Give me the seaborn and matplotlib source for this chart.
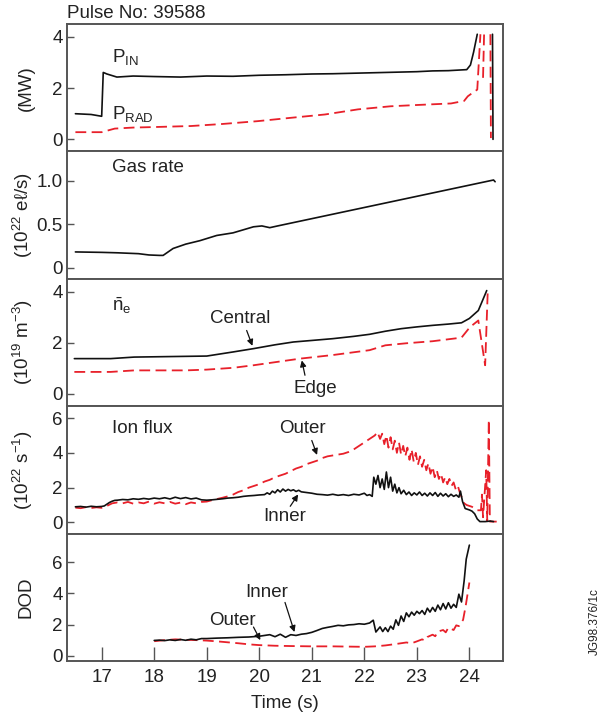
import numpy as np
import pandas as pd
import matplotlib
matplotlib.use("Agg")
import matplotlib.pyplot as plt
import seaborn as sns

# ---------------- data ----------------
NAN = float("nan")
pin_t = [16.50, 16.80, 17.00, 17.03, 17.10, 17.29, 17.60, 18.00, 18.50, 19.00, 19.50, 20.00, 20.50,
         21.00, 21.40, 21.80, 22.20, 22.60, 23.00, 23.30, 23.60, 23.95, 24.02, 24.08, 24.15, NAN, 24.44, 24.45]
pin_v = [1.00, 0.97, 0.90, 2.61, 2.55, 2.43, 2.47, 2.45, 2.43, 2.47, 2.46, 2.50, 2.52,
         2.55, 2.56, 2.58, 2.60, 2.62, 2.64, 2.67, 2.68, 2.72, 2.90, 3.40, 4.10, NAN, 4.10, 0.00]

prad_t = [16.50, 17.00, 17.25, 17.60, 18.00, 18.70, 19.30, 19.97, 20.60, 21.25, 21.88, 22.50,
          23.00, 23.65, 23.90, 23.97, 24.05, 24.15, 24.21, NAN, 24.26, 24.28, NAN, 24.40, 24.41]
prad_v = [0.28, 0.28, 0.42, 0.46, 0.48, 0.52, 0.60, 0.71, 0.84, 0.97, 1.17, 1.29,
          1.34, 1.40, 1.50, 1.68, 1.80, 1.94, 4.10, NAN, 2.40, 4.10, NAN, 4.10, 0.05]

gas_t = [16.50, 17.00, 17.30, 17.70, 17.90, 18.10, 18.17, 18.36, 18.60, 18.87, 19.19, 19.50,
         19.89, 20.05, 20.20, 20.35, 24.46, 24.49]
gas_v = [0.18, 0.175, 0.17, 0.16, 0.145, 0.14, 0.14, 0.22, 0.27, 0.31, 0.37, 0.40,
         0.47, 0.48, 0.46, 0.48, 1.01, 0.99]

ne_c_t = [16.48, 17.17, 17.62, 18.30, 19.00, 19.50, 19.89, 20.30, 20.65, 21.00, 21.40, 21.80, 22.10,
          22.40, 22.70, 23.00, 23.30, 23.60, 23.85, 24.00, 24.17, 24.33]
ne_c_v = [1.38, 1.38, 1.44, 1.46, 1.48, 1.64, 1.77, 1.92, 2.03, 2.09, 2.16, 2.25, 2.33,
          2.45, 2.55, 2.62, 2.68, 2.73, 2.78, 2.95, 3.26, 4.04]

ne_e_t = [16.48, 17.17, 17.62, 18.60, 19.00, 19.50, 19.89, 20.30, 20.78, 21.40, 22.10, 22.40,
          22.80, 23.30, 23.85, 24.01, 24.17, 24.30, 24.35]
ne_e_v = [0.86, 0.86, 0.92, 0.92, 0.95, 1.02, 1.12, 1.24, 1.38, 1.52, 1.71, 1.90,
          1.98, 2.06, 2.20, 2.61, 2.87, 1.12, 4.04]

ion_in_t = [16.50, 16.60, 16.70, 16.80, 16.90, 17.00, 17.05, 17.10, 17.15, 17.20, 17.25, 17.30, 17.40,
            17.50, 17.60, 17.70, 17.80, 17.90, 18.00, 18.10, 18.20, 18.30, 18.40, 18.50, 18.60, 18.70,
            18.80, 18.90, 19.00, 19.10, 19.20, 19.30, 19.40, 19.50, 19.60, 19.70, 19.80, 19.90, 20.00,
            20.10, 20.15, 20.20, 20.25, 20.30, 20.35, 20.40, 20.45, 20.50, 20.55, 20.60, 20.65, 20.70,
            20.75, 20.80, 20.90, 21.00, 21.10, 21.20, 21.30, 21.40, 21.50, 21.60, 21.70, 21.80, 21.90,
            22.00, 22.05, 22.10, 22.15, 22.18, 22.22, 22.26, 22.30, 22.34, 22.38, 22.42, 22.46, 22.50,
            22.54, 22.58, 22.62, 22.66, 22.70, 22.75, 22.80, 22.85, 22.90, 22.95, 23.00, 23.05, 23.10,
            23.15, 23.20, 23.25, 23.30, 23.35, 23.40, 23.45, 23.50, 23.55, 23.60, 23.65, 23.70, 23.75,
            23.80, 23.83, 23.87, 23.92, 24.00, 24.05, 24.10, 24.15, 24.20, 24.30, 24.40, 24.46]
ion_in_v = [0.90, 0.92, 0.88, 0.93, 0.90, 0.92, 0.95, 1.05, 1.15, 1.22, 1.27, 1.28, 1.32,
            1.30, 1.36, 1.33, 1.38, 1.34, 1.40, 1.36, 1.42, 1.35, 1.45, 1.37, 1.43, 1.35,
            1.40, 1.30, 1.28, 1.30, 1.33, 1.36, 1.40, 1.42, 1.45, 1.50, 1.53, 1.55, 1.58,
            1.60, 1.70, 1.62, 1.80, 1.70, 1.88, 1.75, 1.92, 1.80, 1.90, 1.82, 1.88, 1.78,
            1.85, 1.76, 1.72, 1.68, 1.62, 1.60, 1.57, 1.62, 1.56, 1.60, 1.55, 1.62, 1.58,
            1.68, 1.55, 1.60, 1.50, 2.60, 2.20, 2.70, 2.00, 2.50, 1.90, 2.90, 2.00, 2.60,
            1.80, 2.20, 1.70, 2.00, 1.65, 1.85, 1.60, 1.75, 1.55, 1.70, 1.58, 1.75, 1.55,
            1.68, 1.52, 1.70, 1.55, 1.72, 1.50, 1.68, 1.52, 1.65, 1.48, 1.62, 1.50, 1.58,
            1.45, 1.80, 1.20, 0.80, 0.72, 0.65, 0.50, 0.20, 0.05, 0.05, 0.08, 0.05]

ion_out_t = [16.50, 16.60, 16.70, 16.80, 16.90, 17.00, 17.10, 17.20, 17.30, 17.40, 17.50, 17.60, 17.70,
             17.80, 17.90, 18.00, 18.10, 18.20, 18.30, 18.40, 18.50, 18.60, 18.70, 18.80, 18.90, 19.00,
             19.10, 19.20, 19.30, 19.40, 19.50, 19.60, 19.70, 19.80, 19.90, 20.00, 20.10, 20.20, 20.30,
             20.40, 20.50, 20.60, 20.70, 20.80, 20.90, 21.00, 21.10, 21.20, 21.30, 21.40, 21.50, 21.60,
             21.70, 21.80, 21.90, 22.00, 22.10, 22.20, 22.25, 22.30, 22.34, 22.38, 22.42, 22.46, 22.50,
             22.54, 22.58, 22.62, 22.66, 22.70, 22.74, 22.78, 22.82, 22.86, 22.90, 22.94, 22.98, 23.02,
             23.06, 23.10, 23.14, 23.18, 23.22, 23.26, 23.30, 23.34, 23.38, 23.42, 23.46, 23.50, 23.54,
             23.58, 23.62, 23.66, 23.70, 23.74, 23.78, 23.82, 23.86, 23.90, 23.95, 24.00, 24.05, 24.10,
             24.15, 24.22, 24.24, 24.26, 24.32, 24.34, 24.37, 24.39, 24.45, 24.52]
ion_out_v = [0.85, 0.82, 0.88, 0.83, 0.87, 0.84, 0.95, 1.10, 1.15, 1.10, 1.18, 1.08, 1.15,
             1.10, 1.20, 1.08, 1.16, 1.10, 1.18, 1.08, 1.14, 1.05, 1.15, 1.10, 1.18, 1.20,
             1.28, 1.35, 1.42, 1.50, 1.60, 1.75, 1.85, 2.00, 2.10, 2.20, 2.35, 2.45, 2.60,
             2.70, 2.80, 2.95, 3.10, 3.20, 3.35, 3.45, 3.55, 3.70, 3.80, 3.85, 3.90, 3.95,
             4.05, 4.20, 4.40, 4.60, 4.80, 5.00, 5.20, 4.80, 5.10, 4.50, 5.00, 4.30, 4.90,
             4.20, 4.70, 4.00, 4.60, 3.90, 4.40, 3.80, 4.30, 3.60, 4.20, 3.50, 4.00, 3.30,
             3.80, 3.20, 3.60, 3.00, 3.40, 2.80, 3.20, 2.60, 3.00, 2.50, 2.80, 2.30, 2.60,
             2.20, 2.50, 2.10, 2.30, 1.90, 2.10, 1.70, 1.40, 1.10, 1.00, 0.95, 0.90, 0.80,
             0.70, 0.70, 1.60, 0.30, 3.00, 0.10, 5.90, 0.05, 0.05, 0.05]

dod_in_t = [18.00, 18.10, 18.20, 18.30, 18.40, 18.50, 18.60, 18.70, 18.80, 18.90, 19.00, 19.20, 19.40,
            19.60, 19.80, 20.00, 20.10, 20.20, 20.30, 20.40, 20.50, 20.60, 20.70, 20.80, 20.90, 21.00,
            21.10, 21.20, 21.30, 21.40, 21.50, 21.60, 21.70, 21.80, 21.90, 22.00, 22.10, 22.17, 22.22,
            22.30, 22.35, 22.40, 22.45, 22.50, 22.55, 22.60, 22.65, 22.70, 22.75, 22.80, 22.85, 22.90,
            22.95, 23.00, 23.05, 23.10, 23.15, 23.20, 23.25, 23.30, 23.35, 23.40, 23.45, 23.50, 23.55,
            23.60, 23.65, 23.70, 23.75, 23.80, 23.85, 23.90, 23.94, 24.00]
dod_in_v = [0.98, 1.00, 0.97, 1.02, 0.98, 1.04, 0.99, 1.06, 1.02, 1.10, 1.10, 1.13, 1.15,
            1.18, 1.20, 1.25, 1.30, 1.35, 1.22, 1.38, 1.18, 1.35, 1.30, 1.38, 1.42, 1.50,
            1.62, 1.75, 1.82, 1.88, 1.95, 1.92, 1.98, 2.00, 2.05, 2.02, 2.10, 2.28, 1.52,
            1.85, 1.55, 1.80, 1.55, 1.90, 1.70, 2.30, 1.95, 2.55, 2.20, 2.75, 2.50, 2.80,
            2.60, 2.85, 2.70, 2.90, 2.65, 3.05, 2.80, 3.10, 2.85, 3.25, 2.95, 3.35, 3.00,
            3.40, 3.05, 3.30, 3.10, 3.95, 3.45, 4.80, 6.20, 7.10]

dod_out_t = [18.00, 18.20, 18.40, 18.60, 18.80, 19.00, 19.20, 19.40, 19.60, 19.80, 20.00, 20.30, 20.60,
             21.00, 21.40, 21.80, 22.00, 22.20, 22.40, 22.60, 22.80, 22.90, 23.00, 23.10, 23.15, 23.20,
             23.30, 23.35, 23.40, 23.50, 23.55, 23.60, 23.70, 23.75, 23.80, 23.88, 23.93, 24.00]
dod_out_v = [0.93, 1.00, 1.05, 1.02, 1.00, 0.97, 0.92, 0.86, 0.80, 0.73, 0.68, 0.64, 0.62,
             0.60, 0.60, 0.58, 0.57, 0.60, 0.66, 0.75, 0.85, 0.80, 0.92, 1.05, 0.98, 1.20,
             1.35, 1.25, 1.55, 1.65, 1.50, 1.80, 1.65, 1.95, 1.90, 2.30, 3.20, 4.70]

x_ticks = [17, 18, 19, 20, 21, 22, 23, 24]
ylabels = ["(MW)", "(10$^{22}$ e\u2113/s)", "(10$^{19}$ m$^{-3}$)", "(10$^{22}$ s$^{-1}$)", "DOD"]
yticks = [[0, 2, 4], [0, 0.5, 1.0], [0, 2, 4], [0, 2, 4, 6], [0, 2, 4, 6]]
ylims = [(-0.47, 4.5), (-0.13, 1.34), (-0.48, 4.5), (-0.64, 6.68), (-0.34, 7.84)]

# ---------------- style ----------------
sns.set_style("white")
plt.rcParams["font.family"] = ["Liberation Sans", "DejaVu Sans"]
plt.rcParams["mathtext.fontset"] = "custom"
plt.rcParams["mathtext.rm"] = "Liberation Sans"
plt.rcParams["mathtext.it"] = "Liberation Sans:italic"
plt.rcParams["mathtext.bf"] = "Liberation Sans:bold"

BLACK = "#111111"
RED = "#e8202a"
TXT = "#222222"
FS = 13.5
DASH = (0, (6, 3))

fig, axes = plt.subplots(5, 1, figsize=(6.10, 7.18), dpi=100, sharex=True)
fig.subplots_adjust(left=67 / 610, right=503 / 610, top=1 - 24 / 718, bottom=1 - 661 / 718, hspace=0)


def segments(t, v):
    df = pd.DataFrame({"t": t, "v": v})
    grp = df["t"].isna().cumsum()
    out = []
    for _, g in df.groupby(grp):
        g = g.dropna()
        if len(g):
            out.append(g)
    return out


def draw(ax, t, v, color, dashed=False, lw=1.2):
    for seg in segments(t, v):
        sns.lineplot(data=seg, x="t", y="v", ax=ax, color=color, lw=lw, estimator=None, sort=False,
                     linestyle=DASH if dashed else "-")


draw(axes[0], prad_t, prad_v, RED, dashed=True, lw=1.3)
draw(axes[0], pin_t, pin_v, BLACK)
draw(axes[1], gas_t, gas_v, BLACK)
draw(axes[2], ne_e_t, ne_e_v, RED, dashed=True, lw=1.3)
draw(axes[2], ne_c_t, ne_c_v, BLACK)
draw(axes[3], ion_out_t, ion_out_v, RED, dashed=True, lw=1.3)
draw(axes[3], ion_in_t, ion_in_v, BLACK)
draw(axes[4], dod_out_t, dod_out_v, RED, dashed=True, lw=1.3)
draw(axes[4], dod_in_t, dod_in_v, BLACK)

for i, ax in enumerate(axes):
    ax.set_xlim(16.34, 24.64)
    ax.set_ylim(*ylims[i])
    ax.set_yticks(yticks[i])
    if i == 1:
        ax.set_yticklabels(["0", "0.5", "1.0"])
    ax.set_xlabel("")
    ax.set_ylabel(ylabels[i], fontsize=FS, color=TXT)
    ax.yaxis.set_label_coords(-0.074, 0.5)
    for s in ax.spines.values():
        s.set_color("#555555")
        s.set_linewidth(1.4)
    ax.tick_params(axis="y", direction="in", length=5, width=1, color="#555555",
                   labelsize=FS, labelcolor=TXT, pad=3, left=True)
    ax.tick_params(axis="x", direction="in", length=10, width=1, color="#555555",
                   labelsize=FS, labelcolor=TXT, pad=6, bottom=(i == 4), labelbottom=(i == 4))

axes[4].set_xticks(x_ticks)
axes[4].set_xlabel("Time (s)", fontsize=FS, color=TXT, labelpad=6)

# ---------------- annotations ----------------
tk = dict(fontsize=FS, color=TXT)
axes[0].text(17.2, 3.22, "P$_{\\mathrm{IN}}$", va="center", ha="left", **tk)
axes[0].text(17.2, 0.97, "P$_{\\mathrm{RAD}}$", va="center", ha="left", **tk)
axes[1].text(17.2, 1.15, "Gas rate", va="center", ha="left", **tk)
axes[2].text(17.2, 3.45, "$\\bar{\\mathrm{n}}_{\\mathrm{e}}$", va="center", ha="left", **tk)
axes[3].text(17.2, 5.41, "Ion flux", va="center", ha="left", **tk)

ap = dict(arrowstyle="-|>", color=BLACK, lw=0.9, mutation_scale=9, shrinkA=0, shrinkB=0)
axes[2].text(19.63, 2.95, "Central", ha="center", va="center", **tk)
axes[2].annotate("", xy=(19.87, 1.88), xytext=(19.76, 2.48), arrowprops=ap)
axes[2].text(21.06, 0.22, "Edge", ha="center", va="center", **tk)
axes[2].annotate("", xy=(20.81, 1.31), xytext=(20.87, 0.73), arrowprops=ap)

axes[3].text(20.83, 5.41, "Outer", ha="center", va="center", **tk)
axes[3].annotate("", xy=(21.1, 3.88), xytext=(21.0, 4.71), arrowprops=ap)
axes[3].text(20.49, 0.35, "Inner", ha="center", va="center", **tk)
axes[3].annotate("", xy=(20.74, 1.61), xytext=(20.59, 0.93), arrowprops=ap)

axes[4].text(20.15, 4.03, "Inner", ha="center", va="center", **tk)
axes[4].annotate("", xy=(20.67, 1.52), xytext=(20.49, 3.42), arrowprops=ap)
axes[4].text(19.48, 2.26, "Outer", ha="center", va="center", **tk)
axes[4].annotate("", xy=(20.02, 1.0), xytext=(19.89, 1.84), arrowprops=ap)

fig.text(67 / 610, 1 - 13 / 718, "Pulse No: 39588", fontsize=13.5, color=TXT, ha="left", va="center")
fig.text(595 / 610, 1 - 622 / 718, "JG98.376/1c", fontsize=8.5, color=TXT, rotation=90,
         ha="center", va="center")

fig.savefig("out.png", dpi=100)
